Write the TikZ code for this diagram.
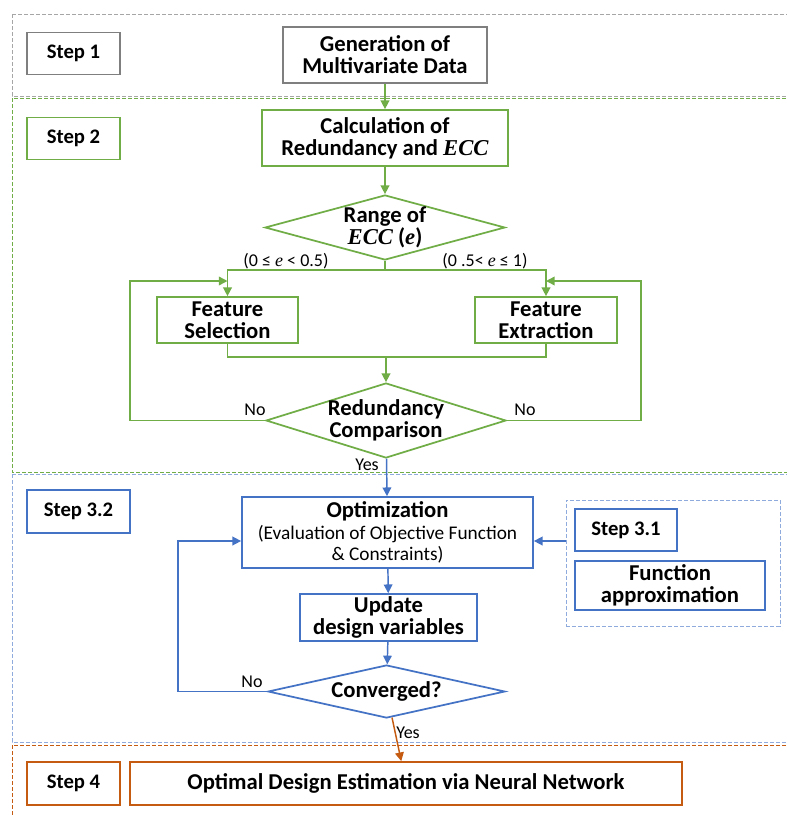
\documentclass[tikz,border=0pt]{standalone}
\usepackage{fontspec}
\setmainfont{Carlito}
\newfontfamily\eccfont{Liberation Serif}
\usepackage{xcolor}
\usetikzlibrary{shapes.geometric,arrows.meta,positioning}
\definecolor{grayc}{HTML}{7F7F7F}
\definecolor{grayz}{HTML}{A6A6A6}
\definecolor{greenc}{HTML}{70AD47}
\definecolor{bluec}{HTML}{4472C4}
\definecolor{bluez}{HTML}{8FAADC}
\definecolor{orangec}{HTML}{C55A11}
\newcommand{\subtxt}[1]{{\mdseries\fontsize{14.5}{16}\selectfont #1}}
\newcommand{\ecc}[1]{{\eccfont\itshape #1}}

\begin{document}
\begin{tikzpicture}
  %[auto,every node/.style={draw,align=center}]
  [x=0.75pt,y=0.75pt,every node/.style={align=center,inner sep=0pt,font=\fontsize{17}{16.5}\selectfont\bfseries}]
\tikzset{%
box/.style={rectangle,draw,line width=1.3pt,fill=white},
stepbox/.style={box,minimum width=69.75pt,minimum height=31.5pt,font=\fontsize{15.5}{16}\selectfont\bfseries},
dec/.style={diamond,draw,line width=1.3pt,fill=white},
lab/.style={font=\fontsize{13.5}{14}\selectfont},
line/.style={line width=1.1pt},
arr/.style={line,-{Triangle[length=6.5pt,width=6.5pt]}},
zone/.style={dash pattern=on 3pt off 1.5pt,line width=0.6pt}
}
\useasboundingbox (0,0) rectangle (787,-815);
\clip (0,0) rectangle (787,-815);
% dashed zones of the four steps
\draw[zone,grayz] (12,-14) rectangle (820,-96);
\draw[zone,greenc] (12,-98) rectangle (820,-472);
\draw[zone,bluez] (12,-474) rectangle (820,-742);
\draw[zone,orangec] (12,-745) rectangle (820,-840);

% step 1
\node[stepbox,draw=grayc] (st1) at (73.5,-53.5) {Step 1};
\node[box,draw=grayc,minimum width=153pt,minimum height=42pt] (gen) at (385,-55) {Generation of\\Multivariate Data};

% step 2
\node[stepbox,draw=greenc] (st2) at (73.5,-138.5) {Step 2};
\node[box,draw=greenc,minimum width=184.5pt,minimum height=42pt] (calc) at (385,-138) {Calculation of\\Redundancy and \ecc{ECC}};
\node[dec,draw=greenc,minimum width=180pt,minimum height=48.75pt] (rng) at (385,-227.5) {};
\node (rngtxt) at (rng) {Range of\\\ecc{ECC} ({\eccfont\itshape e})};
\node[lab] (lo) at (286,-261) {(0 ≤ \ecc{e} < 0.5)};
\node[lab] (hi) at (485,-261) {(0 .5< \ecc{e} ≤ 1)};
\node[box,draw=greenc,minimum width=105.75pt,minimum height=34.5pt] (fsel) at (227.5,-320) {Feature\\Selection};
\node[box,draw=greenc,minimum width=106.5pt,minimum height=34.5pt] (fext) at (546,-320) {Feature\\Extraction};
\node[dec,draw=greenc,minimum width=180pt,minimum height=56.25pt] (red) at (386,-420.5) {};
\node (redtxt) at (red) {Redundancy\\Comparison};
\node[lab] (no1) at (255,-410) {No};
\node[lab] (no2) at (525,-410) {No};
\node[lab] (yes1) at (367,-465) {Yes};
\coordinate (split) at (385,-270);
\coordinate (merge) at (386,-357);
\coordinate (lt) at (130,-281);
\coordinate (rt) at (641,-281);
\draw[arr,greenc] (gen) -- (calc);
\draw[arr,greenc] (calc) -- (rng);
\draw[line,greenc] (rng.south) -- (split);
\draw[arr,greenc] (split) -| (fsel);
\draw[arr,greenc] (split) -| (fext);
\draw[line,greenc] (fsel) |- (merge) -| (fext);
\draw[arr,greenc] (merge) -- (red);
\draw[arr,greenc] (red.west) -| (lt) -- (lt -| fsel);
\draw[arr,greenc] (red.east) -| (rt) -- (rt -| fext);

% step 3
\node[stepbox,draw=bluec,minimum width=77.25pt,minimum height=32.25pt] (st32) at (78.5,-511.5) {Step 3.2};
\node[box,draw=bluec,minimum width=218.25pt,minimum height=53.25pt] (opt) at (387.5,-532.5) {Optimization\\\subtxt{(Evaluation of Objective Function}\\[-1pt]\subtxt{\& Constraints)}};
\node[box,draw=bluec,minimum width=132.75pt,minimum height=35.25pt] (upd) at (388.5,-617.5) {Update\\design variables};
\node[dec,draw=bluec,minimum width=177.75pt,minimum height=39.75pt] (conv) at (386.5,-691.5) {};
\node (convtxt) at (conv) {Converged?};
\node[draw=bluez,zone,minimum width=160.5pt,minimum height=94.5pt] (f31) at (673,-563) {};
\node[stepbox,draw=bluec,minimum width=76.5pt] (st31) at (626,-530) {Step 3.1};
\node[box,draw=bluec,minimum width=142.5pt,minimum height=36.75pt] (fun) at (670,-585.5) {Function\\approximation};
\node[lab] (no3) at (252,-682) {No};
\coordinate (back) at (178,-541);
\draw[arr,bluec] (red) -- (opt);
\draw[arr,bluec] (opt) -- (upd);
\draw[arr,bluec] (upd) -- (conv);
\draw[arr,bluec] (conv.west) -| (back) -- (back -| opt.west);
\draw[arr,bluec] (back -| f31.west) -- (back -| opt.east);

% step 4
\node[stepbox,draw=orangec,minimum height=32.25pt] (st4) at (73.5,-783.5) {Step 4};
\node[box,draw=orangec,minimum width=414pt,minimum height=32.25pt] (est) at (406,-783.5) {Optimal Design Estimation via Neural Network};
\node[lab] (yes2) at (408,-733) {Yes};
\draw[arr,orangec] (conv) -- (est);
\end{tikzpicture}
\end{document}
